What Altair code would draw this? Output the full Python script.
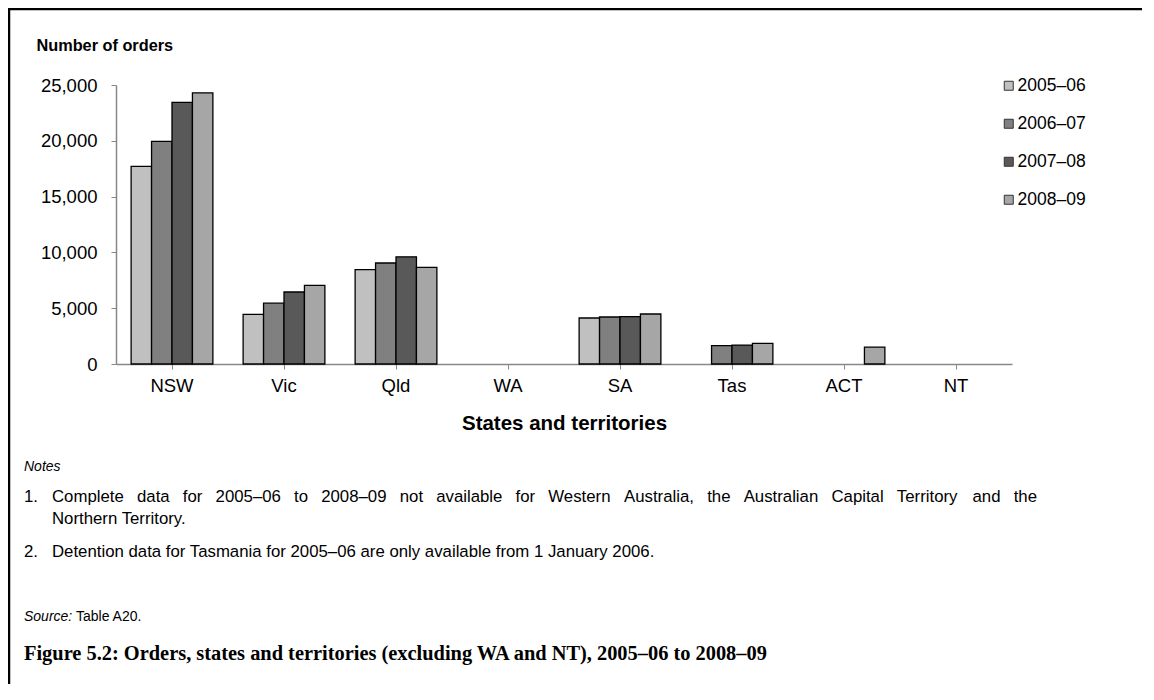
import altair as alt
import pandas as pd

states = ["NSW", "Vic", "Qld", "WA", "SA", "Tas", "ACT", "NT"]
years = ["2005–06", "2006–07", "2007–08", "2008–09"]
colors = ["#C0C0C0", "#808080", "#595959", "#A6A6A6"]
v_2005_06 = [17700, 4450, 8450, None, 4120, None, None, None]
v_2006_07 = [19950, 5450, 9050, None, 4210, 1640, None, None]
v_2007_08 = [23450, 6450, 9600, None, 4240, 1700, None, None]
v_2008_09 = [24300, 7050, 8650, None, 4480, 1840, 1520, None]
y_ticks = [0, 5000, 10000, 15000, 20000, 25000]

note1_line1 = "Complete data for 2005–06 to 2008–09 not available for Western Australia, the Australian Capital Territory and the"
note1_line2 = "Northern Territory."
note2 = "Detention data for Tasmania for 2005–06 are only available from 1 January 2006."
caption = "Figure 5.2: Orders, states and territories (excluding WA and NT), 2005–06 to 2008–09"

rows = []
for yr, vals in zip(years, [v_2005_06, v_2006_07, v_2007_08, v_2008_09]):
    for st, v in zip(states, vals):
        if v is not None:
            rows.append({"state": st, "year": yr, "orders": v})
df = pd.DataFrame(rows)

FONT = "Liberation Sans"
W, H = 896, 279
NOTE_SIZE = 16.8

# Arial / Liberation Sans advance widths (per 1000 em) for justified note line
AW = {" ": 278, ".": 278, ",": 278, "–": 556}
for ch in "0123456789":
    AW[ch] = 556
AW.update(dict(zip("abcdefghijklmnopqrstuvwxyz",
                   [556, 556, 500, 556, 556, 278, 556, 556, 222, 222, 500, 222, 833,
                    556, 556, 556, 556, 333, 500, 278, 556, 500, 722, 500, 500, 500])))
AW.update(dict(zip("ABCDEFGHIJKLMNOPQRSTUVWXYZ",
                   [667, 667, 722, 722, 667, 611, 778, 722, 278, 500, 667, 556, 833,
                    722, 778, 667, 778, 722, 667, 611, 722, 667, 944, 667, 667, 611])))


def text_w(s, size):
    return sum(AW.get(c, 556) for c in s) / 1000.0 * size


# justify first line of note 1 between x=-64 and x=921 (plot coords)
words = note1_line1.split(" ")
left, right = -64, 921
total_words = sum(text_w(w, NOTE_SIZE) for w in words)
gap = (right - left - total_words) / (len(words) - 1)
wx = []
cur = left
for w in words:
    wx.append(cur)
    cur += text_w(w, NOTE_SIZE) + gap
just_df = pd.DataFrame({"w": words, "px": wx})

bars = alt.Chart(df).mark_bar(stroke="#000000", strokeWidth=1.3).encode(
    x=alt.X("state:N", sort=states,
            scale=alt.Scale(domain=states, paddingInner=0.27, paddingOuter=0.135),
            axis=alt.Axis(title="States and territories", labelAngle=0,
                          labelFontSize=18.5, labelFont=FONT, labelColor="#000",
                          labelPadding=7, tickSize=5, tickColor="#888",
                          domainColor="#888", domainWidth=1.5,
                          titleFontSize=20.5, titleFont=FONT, titleFontWeight="bold",
                          titleColor="#000", titlePadding=19)),
    xOffset=alt.XOffset("year:N", sort=years, scale=alt.Scale(domain=years)),
    y=alt.Y("orders:Q", scale=alt.Scale(domain=[0, 25000], nice=False),
            axis=alt.Axis(values=y_ticks, format=",d", grid=False,
                          labelFontSize=18.5, labelFont=FONT, labelColor="#000",
                          labelPadding=14, tickSize=5, tickColor="#888",
                          domainColor="#888", domainWidth=1.5,
                          title="Number of orders", titleAngle=0, titleAlign="left",
                          titleBaseline="middle", titleX=-80, titleY=-40,
                          titleFontSize=16.3, titleFont=FONT, titleFontWeight="bold",
                          titleColor="#000")),
    color=alt.Color("year:N", sort=years,
                    scale=alt.Scale(domain=years, range=colors),
                    legend=alt.Legend(title=None, orient="none", legendX=884, legendY=-8,
                                      symbolType="square", symbolSize=81,
                                      symbolStrokeColor="#333", symbolStrokeWidth=1,
                                      labelFontSize=17.5, labelFont=FONT, labelColor="#000",
                                      labelOffset=0, rowPadding=19, padding=0)),
)

dummy = pd.DataFrame({"d": [0]})


def txt(text, x, y, size=NOTE_SIZE, style="normal", weight="normal", font=FONT):
    return alt.Chart(dummy).mark_text(
        text=text, align="left", baseline="middle", fontSize=size,
        fontStyle=style, fontWeight=weight, font=font, color="#000"
    ).encode(x=alt.value(x), y=alt.value(y))


justified = alt.Chart(just_df).mark_text(
    align="left", baseline="middle", fontSize=NOTE_SIZE, font=FONT, color="#000"
).encode(x=alt.X("px:Q", scale=None), y=alt.value(412), text="w:N")

texts = [
    txt("Notes", -92, 382, size=14, style="italic"),
    txt("1.", -92, 412),
    justified,
    txt(note1_line2, -64, 434),
    txt("2.", -92, 467),
    txt(note2, -64, 467),
    txt("Source:", -92, 532, size=14, style="italic"),
    txt("Table A20.", -40, 532, size=14),
    txt(caption, -92, 569, size=20.4, weight="bold", font="Liberation Serif"),
]

border_top = alt.Chart(dummy).mark_rule(color="#000", strokeWidth=2.5).encode(
    x=alt.value(-108), x2=alt.value(1030), y=alt.value(-76))
border_left = alt.Chart(dummy).mark_rule(color="#000", strokeWidth=2.5).encode(
    x=alt.value(-107), y=alt.value(-77), y2=alt.value(620))

chart = alt.layer(bars, *texts, border_top, border_left).properties(
    width=W, height=H,
    autosize=alt.AutoSizeParams(type="none"),
    padding={"left": 108, "top": 77, "right": 130, "bottom": 320},
).configure_view(stroke=None)

chart.save("out.html", embed_options={"renderer": "svg", "actions": False})
